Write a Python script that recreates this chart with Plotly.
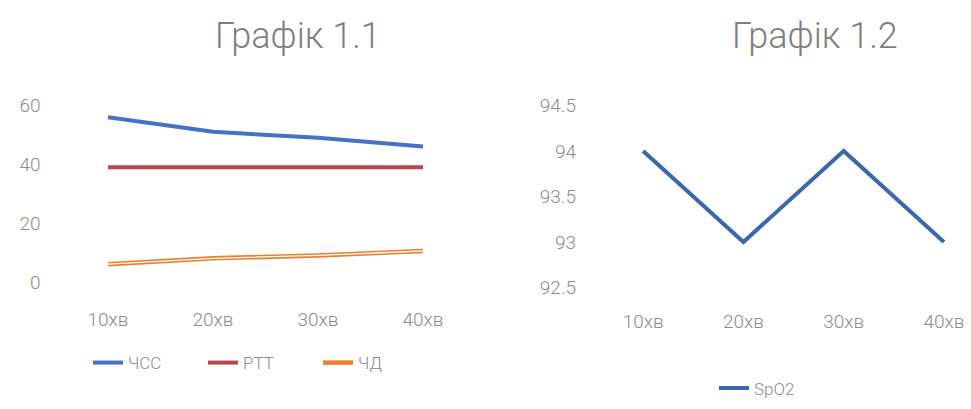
import plotly.graph_objects as go

categories = ["10хв", "20хв", "30хв", "40хв"]
chss = [56, 51, 49, 46]
rtt = [39, 39, 39, 39]
chd = [6, 8, 9, 10.5]
spo2 = [94, 93, 94, 93]

W, H = 971, 409
def px_x(v):
    return v / W
def px_y(v):
    return 1 - v / H

GRAY = "#8c8c8c"
FONT = "Roboto"
TICKFONT = dict(family=FONT, size=19, color=GRAY, weight=300)

fig = go.Figure()
fig.add_trace(go.Scatter(x=categories, y=chss, name="ЧСС", mode="lines",
                         line=dict(color="#4472C4", width=4), xaxis="x", yaxis="y", legend="legend"))
fig.add_trace(go.Scatter(x=categories, y=rtt, name="РТТ", mode="lines",
                         line=dict(color="#B9474A", width=4), xaxis="x", yaxis="y", legend="legend"))
fig.add_trace(go.Scatter(x=categories, y=chd, name="ЧД", mode="lines",
                         line=dict(color="#ED7D31", width=4.5), xaxis="x", yaxis="y", legend="legend"))
fig.add_trace(go.Scatter(x=categories, y=chd, name="ЧД", mode="lines", showlegend=False,
                         line=dict(color="white", width=1.3), xaxis="x", yaxis="y", hoverinfo="skip"))
fig.add_trace(go.Scatter(x=categories, y=spo2, name="SpO2", mode="lines",
                         line=dict(color="#3C68AA", width=4), xaxis="x2", yaxis="y2", legend="legend2"))

axis_common = dict(showgrid=False, zeroline=False, showline=False, ticks="",
                   tickfont=TICKFONT)

fig.update_layout(
    width=W, height=H,
    margin=dict(l=0, r=0, t=0, b=0),
    paper_bgcolor="white", plot_bgcolor="white",
    font=dict(family=FONT, color=GRAY),
    xaxis=dict(domain=[px_x(55.5), px_x(475.5)], range=[-0.5, 3.5], type="category",
               anchor="y", ticklabelstandoff=24, **axis_common),
    yaxis=dict(domain=[px_y(287), px_y(100)], range=[0, 60], tickvals=[0, 20, 40, 60],
               anchor="x", ticklabelstandoff=14, **axis_common),
    xaxis2=dict(domain=[px_x(593), px_x(964)], range=[-0.5, 3.2], type="category",
                anchor="y2", ticklabelstandoff=20, **axis_common),
    yaxis2=dict(domain=[px_y(293), px_y(100)], range=[92.5, 94.5],
                tickvals=[92.5, 93, 93.5, 94, 94.5], ticktext=["92.5", "93", "93.5", "94", "94.5"],
                anchor="x2", ticklabelstandoff=16, **axis_common),
    legend=dict(orientation="h", x=px_x(88), y=px_y(373), xanchor="left", yanchor="middle",
                font=dict(family=FONT, size=17, color=GRAY, weight=300),
                entrywidth=70, entrywidthmode="pixels",
                bgcolor="rgba(0,0,0,0)", tracegroupgap=0),
    legend2=dict(orientation="h", x=px_x(714), y=px_y(400), xanchor="left", yanchor="middle",
                 font=dict(family=FONT, size=17, color=GRAY, weight=300),
                 bgcolor="rgba(0,0,0,0)"),
    showlegend=True,
    annotations=[
        dict(text="Графік 1.1", x=px_x(298), y=px_y(26), xref="paper", yref="paper",
             showarrow=False, xanchor="center", yanchor="middle",
             font=dict(family=FONT, size=36, color="#7f7f7f", weight=300)),
        dict(text="Графік 1.2", x=px_x(815), y=px_y(26), xref="paper", yref="paper",
             showarrow=False, xanchor="center", yanchor="middle",
             font=dict(family=FONT, size=36, color="#7f7f7f", weight=300)),
    ],
)

fig.write_html("out.html")
